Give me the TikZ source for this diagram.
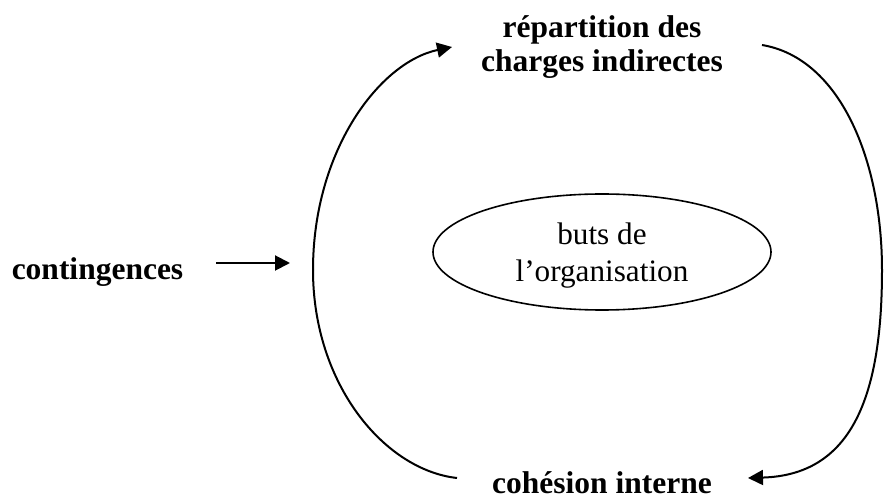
\documentclass[tikz,border=0pt]{standalone}
\usepackage{fontspec}
\setmainfont{Liberation Serif}
\usetikzlibrary{arrows.meta,shapes.geometric}
\begin{document}
\begin{tikzpicture}[x=0.5pt,y=-0.5pt,
  lbl/.style={font=\fontsize{15.75}{17}\selectfont\bfseries, inner sep=0pt, align=center, anchor=base},
  plain/.style={font=\fontsize{15.6}{18.5}\selectfont, inner sep=0pt, align=center, anchor=base},
  conn/.style={line width=1pt, -{Triangle[length=7.5pt,width=7.5pt]}},
  arc/.style={line width=1pt}]
\useasboundingbox (0,0) rectangle (885,497);
\node[lbl] (rep) at (602,72) {répartition des\\charges indirectes};
\node[lbl] (coh) at (602,494) {cohésion interne};
\node[lbl] (cont) at (97.5,280) {contingences};
\node[draw, ellipse, line width=0.8pt, minimum width=169pt, minimum height=58pt, inner sep=0pt] (goal) at (602,252) {};
\node[plain] (goaltext) at (602,282) {buts de\\l’organisation};
\coordinate (a0) at (216,263);
\coordinate (a1) at (290,263);
\draw[conn] (a0) -- (a1);
\coordinate (L0) at (457,478);
\coordinate (Lm) at (313,270);
\coordinate (L1) at (452,47);
\draw[arc] (L0) .. controls (385,470) and (313,385) .. (Lm);
\draw[conn] (Lm) .. controls (313,150) and (380,62) .. (L1);
\coordinate (R0) at (762,45);
\coordinate (Rm) at (882,270);
\coordinate (R1) at (748,478);
\draw[arc] (R0) .. controls (840,58) and (882,160) .. (Rm);
\draw[conn] (Rm) .. controls (882,400) and (850,475) .. (R1);
\end{tikzpicture}
\end{document}
